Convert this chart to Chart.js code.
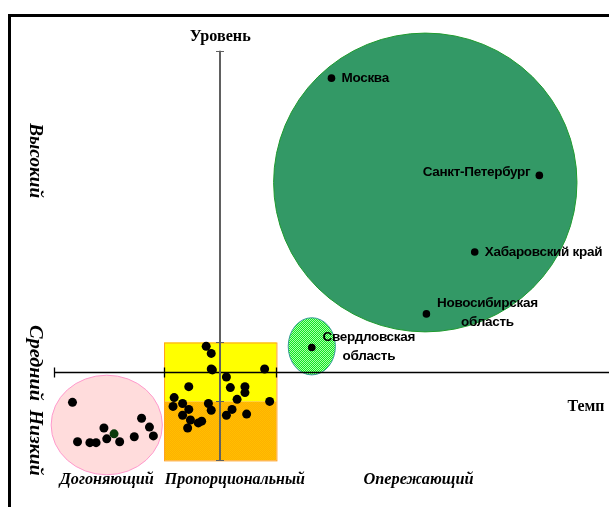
<!DOCTYPE html>
<html>
<head>
<meta charset="utf-8">
<script src="https://cdn.jsdelivr.net/npm/chart.js@4"></script>
<style>
  body { margin: 0; background: #fff; }
  #wrap { position: relative; width: 609px; height: 507px; overflow: hidden; }
  #frame { position: absolute; left: 8px; top: 14px; width: 700px; height: 600px;
           border-left: 3px solid #000; border-top: 3px solid #000; }
</style>
</head>
<body>
<div id="wrap">
  <canvas id="matrix" width="609" height="507"></canvas>
  <div id="frame"></div>
</div>
<script>
// Темп (x) и Уровень (y) в условных единицах, 0 — пересечение осей
const regionNames = ['Москва', 'Санкт-Петербург', 'Хабаровский край', 'Новосибирская область', 'Свердловская область'];
const regionTemp  = [1.98, 5.68, 4.53, 3.67, 1.63];
const regionLevel = [9.97, 6.67, 4.07, 1.97, 0.83];

const propTemp  = [-0.25, -0.16, -0.16, -0.14, 0.79, 0.11, -0.56, 0.18, 0.44, 0.44, -0.82, -0.84, 0.30,
                   0.88, -0.67, -0.21, -0.16, -0.56, 0.21, 0.11, 0.47, -0.67, -0.53, -0.33, -0.39, -0.58];
const propLevel = [0.87, 0.63, 0.10, 0.07, 0.10, -0.17, -0.50, -0.53, -0.50, -0.70, -0.87, -1.17, -0.93,
                   -1.00, -1.07, -1.07, -1.30, -1.27, -1.27, -1.47, -1.43, -1.47, -1.63, -1.67, -1.73, -1.90];

const catchTemp  = [-2.63, -2.54, -2.32, -2.21, -2.07, -2.02, -1.89, -1.79, -1.53, -1.40, -1.26, -1.19];
const catchLevel = [-1.03, -2.37, -2.40, -2.40, -1.90, -2.27, -2.10, -2.37, -2.20, -1.57, -1.87, -2.17];

const zoneNames  = ['Догоняющий', 'Пропорциональный', 'Опережающий'];
const levelNames = ['Высокий', 'Средний', 'Низкий'];
const axisNames  = ['Темп', 'Уровень'];

// границы зоны «пропорционального» развития
const tempBounds  = [-1, 1];
const levelBounds = [1, -1, -3];

// группы (эллипсы): центр и полуоси
const leadGroup   = { x: 3.65, y: 6.43, rx: 2.70, ry: 5.07 };
const sverdGroup  = { x: 1.63, y: 0.87, rx: 0.42, ry: 0.97 };
const catchGroup  = { x: -2.02, y: -1.80, rx: 0.99, ry: 1.69 };

const X_MIN = -3.84, X_MAX = 6.84, Y_MIN = -4.43, Y_MAX = 12.47;
const axisTempStart = -2.96, axisLevelTop = 10.9;

function hatch(ctx, base, line) {
  const c = document.createElement('canvas');
  c.width = 4; c.height = 4;
  const g = c.getContext('2d');
  g.fillStyle = base; g.fillRect(0, 0, 4, 4);
  g.fillStyle = line;
  for (let i = 0; i < 4; i++) {
    g.fillRect(i, 3 - i, 1, 1);
    g.fillRect(i, (5 - i) % 4, 1, 1);
  }
  return ctx.createPattern(c, 'repeat');
}

const serif = '"Liberation Serif", "Times New Roman", serif';
const sans = '"Liberation Sans", Arial, sans-serif';

const shapes = {
  id: 'shapes',
  beforeDatasetsDraw(chart) {
    const { ctx, scales: { x, y } } = chart;
    const px = v => x.getPixelForValue(v), py = v => y.getPixelForValue(v);

    function ellipse(e, fill, stroke, lw) {
      ctx.beginPath();
      ctx.ellipse(px(e.x), py(e.y), px(e.x + e.rx) - px(e.x), py(e.y) - py(e.y + e.ry), 0, 0, Math.PI * 2);
      ctx.fillStyle = fill; ctx.fill();
      ctx.lineWidth = lw; ctx.strokeStyle = stroke; ctx.stroke();
    }
    ctx.save();
    ellipse(leadGroup, '#339966', '#1e9a2e', 1);
    ellipse(sverdGroup, hatch(ctx, '#a8ffa8', '#11e622'), '#3a9a9a', 1);
    ellipse(catchGroup, '#ffdcdc', '#ff99cc', 1);

    // прямоугольник: верх жёлтый, низ оранжевый
    const l = px(tempBounds[0]), r = px(tempBounds[1]);
    ctx.fillStyle = '#ffff00';
    ctx.fillRect(l, py(levelBounds[0]), r - l, py(levelBounds[1]) - py(levelBounds[0]));
    ctx.fillStyle = hatch(ctx, '#ffc000', '#ffb000');
    ctx.fillRect(l, py(levelBounds[1]), r - l, py(levelBounds[2]) - py(levelBounds[1]));
    ctx.strokeStyle = '#ffa020'; ctx.lineWidth = 1;
    ctx.strokeRect(l + 0.5, py(levelBounds[0]) + 0.5, r - l, py(levelBounds[2]) - py(levelBounds[0]));

    // ось Темп
    const y0 = Math.round(py(0)) + 0.5;
    ctx.strokeStyle = '#000'; ctx.lineWidth = 1.3;
    ctx.beginPath();
    ctx.moveTo(px(axisTempStart), y0); ctx.lineTo(chart.width, y0);
    [axisTempStart, tempBounds[0], tempBounds[1]].forEach(v => {
      ctx.moveTo(Math.round(px(v)) + 0.5, y0 - 5); ctx.lineTo(Math.round(px(v)) + 0.5, y0 + 5);
    });
    ctx.stroke();

    // ось Уровень
    const x0 = Math.round(px(0));
    ctx.strokeStyle = '#606060'; ctx.lineWidth = 2;
    ctx.beginPath();
    ctx.moveTo(x0, py(axisLevelTop)); ctx.lineTo(x0, py(levelBounds[2]));
    ctx.stroke();
    ctx.lineWidth = 1;
    ctx.beginPath();
    [axisLevelTop, levelBounds[0], levelBounds[1], levelBounds[2]].forEach(v => {
      const yy = Math.round(py(v)) + 0.5;
      ctx.moveTo(x0 - 4, yy); ctx.lineTo(x0 + 4, yy);
    });
    ctx.stroke();
    ctx.restore();
  },
  afterDatasetsDraw(chart) {
    const { ctx, scales: { x, y } } = chart;
    const px = v => x.getPixelForValue(v), py = v => y.getPixelForValue(v);

    function fitText(str, cx, cy, w, font, rot) {
      ctx.save();
      ctx.translate(cx, cy);
      if (rot) ctx.rotate(rot);
      ctx.font = font;
      ctx.scale(w / ctx.measureText(str).width, 1);
      ctx.textAlign = 'center'; ctx.textBaseline = 'middle';
      ctx.fillText(str, 0, 0);
      ctx.restore();
    }
    ctx.save();
    ctx.fillStyle = '#000';

    // подписи регионов
    ctx.font = 'bold 13.5px ' + sans;
    ctx.letterSpacing = '-0.3px';
    ctx.textBaseline = 'middle';
    const offs = [[10, 0, 'left'], [-9, -3, 'right'], [10, 0, 'left'], [61, -11, 'center'], [57, -10, 'center']];
    regionNames.forEach((name, i) => {
      const [dx, dy, al] = offs[i];
      ctx.textAlign = al;
      const lines = name.split(' ');
      const bx = px(regionTemp[i]) + dx, by = py(regionLevel[i]) + dy;
      if (al === 'center') {
        lines.forEach((ln, k) => ctx.fillText(ln, bx, by + k * 19));
      } else {
        ctx.fillText(name, bx, by);
      }
    });
    ctx.letterSpacing = '0px';

    // оси
    fitText(axisNames[1], px(0), py(axisLevelTop) - 14, 61, 'bold 17px ' + serif);
    fitText(axisNames[0], 586, py(0) + 35, 37, 'bold 17px ' + serif);

    // зоны по темпу
    const zoneX = [catchGroup.x, 0.26, 3.53];
    const zoneW = [94, 140, 110];
    zoneNames.forEach((n, i) => fitText(n, px(zoneX[i]), py(-3.64), zoneW[i], 'bold italic 17px ' + serif));

    // уровни
    const levY = [7.17, 0.3, -2.4];
    const levW = [75, 76, 66];
    levelNames.forEach((n, i) => fitText(n, 35, py(levY[i]), levW[i], 'bold italic 18px ' + serif, Math.PI / 2));
    ctx.restore();
  }
};

const toPts = (xs, ys) => xs.map((v, i) => ({ x: v, y: ys[i] }));

new Chart(document.getElementById('matrix'), {
  type: 'scatter',
  data: {
    datasets: [
      {
        label: 'Регионы-лидеры',
        data: toPts(regionTemp, regionLevel),
        backgroundColor: '#000',
        borderWidth: 0,
        pointRadius: 3.8
      },
      {
        label: 'Пропорциональный',
        data: toPts(propTemp, propLevel),
        backgroundColor: '#000',
        borderWidth: 0,
        pointRadius: 4.5
      },
      {
        label: 'Догоняющий',
        data: toPts(catchTemp, catchLevel),
        backgroundColor: catchTemp.map((v, i) => i === 6 ? '#0a3a0a' : '#000'),
        borderWidth: 0,
        pointRadius: 4.5
      }
    ]
  },
  options: {
    responsive: false,
    animation: false,
    layout: { padding: 0 },
    plugins: { legend: { display: false }, tooltip: { enabled: false } },
    scales: {
      x: { type: 'linear', display: false, min: X_MIN, max: X_MAX },
      y: { type: 'linear', display: false, min: Y_MIN, max: Y_MAX }
    }
  },
  plugins: [shapes]
});
</script>
</body>
</html>
